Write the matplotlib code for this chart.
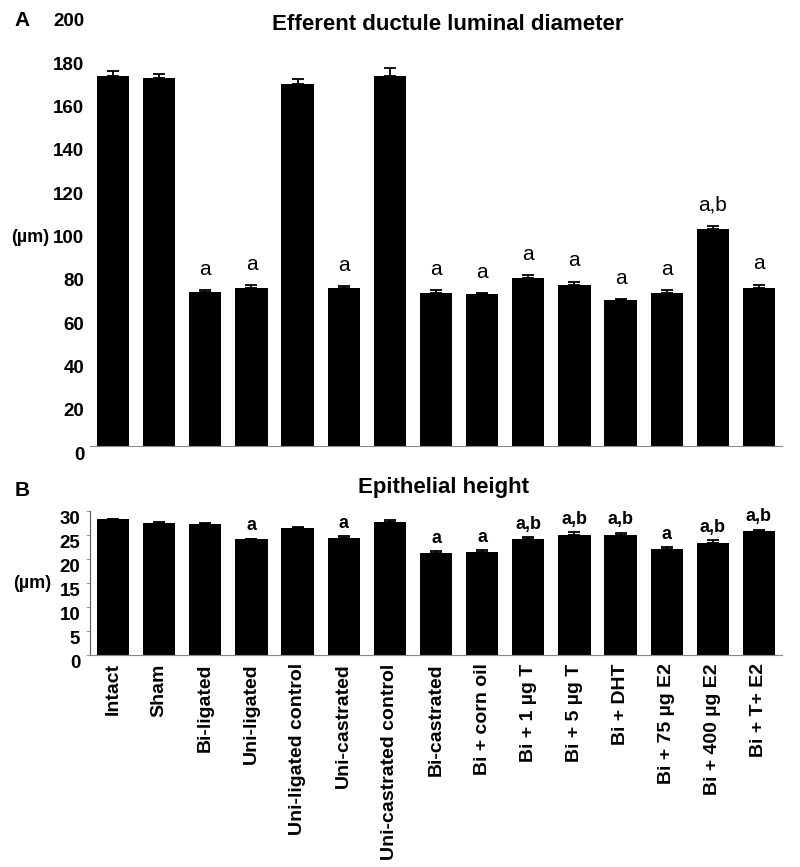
import matplotlib
matplotlib.use('Agg')
import matplotlib.pyplot as plt
import matplotlib.transforms as mtransforms
import numpy as np

plt.rcParams['font.family'] = ['Liberation Sans', 'DejaVu Sans']

groups = ['Intact', 'Sham', 'Bi-ligated', 'Uni-ligated', 'Uni-ligated control',
          'Uni-castrated', 'Uni-castrated control', 'Bi-castrated', 'Bi + corn oil',
          'Bi + 1 \u00b5g T', 'Bi + 5 \u00b5g T', 'Bi + DHT', 'Bi + 75 \u00b5g E2',
          'Bi + 400 \u00b5g E2', 'Bi + T+ E2']

# panel A: efferent ductule luminal diameter (um)
diam = [171, 170, 71.3, 72.8, 167, 72.8, 171, 70.8, 70.0, 77.5, 74.5, 67.4, 70.8, 100.4, 73.0]
diam_err = [2.3, 2.0, 0.8, 1.5, 2.5, 0.9, 3.8, 1.2, 0.5, 1.4, 1.4, 0.6, 1.2, 1.1, 1.5]
diam_sig = ['', '', 'a', 'a', '', 'a', '', 'a', 'a', 'a', 'a', 'a', 'a', 'a,b', 'a']

# panel B: epithelial height (um)
height = [28.3, 27.5, 27.3, 24.1, 26.5, 24.4, 27.8, 21.3, 21.5, 24.2, 25.1, 25.1, 22.1, 23.3, 25.8]
height_err = [0.1, 0.2, 0.3, 0.15, 0.2, 0.4, 0.3, 0.35, 0.35, 0.35, 0.5, 0.4, 0.35, 0.6, 0.3]
height_sig = ['', '', '', 'a', '', 'a', '', 'a', 'a', 'a,b', 'a,b', 'a,b', 'a', 'a,b', 'a,b']

W, H = 800, 867
fig = plt.figure(figsize=(W / 100, H / 100), dpi=100)
axA = fig.add_axes([90 / W, (H - 446) / H, 692 / W, 433 / H])
axB = fig.add_axes([90 / W, (H - 655) / H, 692 / W, 144 / H])

x = np.arange(len(groups))


def draw(ax, vals, errs, sig, sig_bold, sig_size, sig_off):
    ax.bar(x, vals, width=0.7, color='black', zorder=2)
    ax.errorbar(x, vals, yerr=[np.zeros(len(vals)), errs], fmt='none',
                ecolor='black', elinewidth=1.3, capsize=4, capthick=1.3, zorder=3)
    for i, s in enumerate(sig):
        if s:
            ax.annotate(s, (x[i], vals[i] + errs[i]), xytext=(0, sig_off),
                        textcoords='offset points', ha='center', va='baseline',
                        fontsize=sig_size, fontweight='bold' if sig_bold else 'normal')
    ax.set_xlim(-0.5, len(groups) - 0.5)
    for side in ['top', 'right']:
        ax.spines[side].set_visible(False)
    ax.spines['bottom'].set_color('#888888')


def shift_labels(ax):
    # tick labels in the original sit a few pixels below their values
    off = mtransforms.ScaledTranslation(0, -7 / 100, fig.dpi_scale_trans)
    for lab in ax.get_yticklabels():
        lab.set_fontweight('bold')
        lab.set_fontsize(13.5)
        lab.set_transform(lab.get_transform() + off)


draw(axA, diam, diam_err, diam_sig, False, 15, 11)
axA.set_ylim(0, 200)
axA.set_yticks(range(0, 201, 20))
axA.spines['left'].set_visible(False)
axA.tick_params(axis='y', length=0, pad=4)
axA.set_xticks([])
shift_labels(axA)

draw(axB, height, height_err, height_sig, True, 13, 6)
axB.set_ylim(0, 30)
axB.set_yticks(range(0, 31, 5))
axB.spines['left'].set_color('#555555')
axB.tick_params(axis='y', length=3, width=0.6, color='#888888', pad=4)
axB.set_xticks(x)
axB.set_xticklabels(groups, rotation=90, fontsize=14, fontweight='bold')
axB.tick_params(axis='x', length=0, pad=6)
shift_labels(axB)

fig.text(22 / W, 1 - 20 / H, 'A', fontsize=15, fontweight='bold', ha='center', va='center')
fig.text(22 / W, 1 - 491 / H, 'B', fontsize=15, fontweight='bold', ha='center', va='center')
fig.text(448 / W, 1 - 25 / H, 'Efferent ductule luminal diameter', fontsize=16,
         fontweight='bold', ha='center', va='center')
fig.text(443 / W, 1 - 487 / H, 'Epithelial height', fontsize=16,
         fontweight='bold', ha='center', va='center')
fig.text(30 / W, 1 - 237 / H, '(\u00b5m)', fontsize=13, fontweight='bold', ha='center', va='center')
fig.text(32 / W, 1 - 583 / H, '(\u00b5m)', fontsize=13, fontweight='bold', ha='center', va='center')

fig.savefig('out.png', dpi=100)
